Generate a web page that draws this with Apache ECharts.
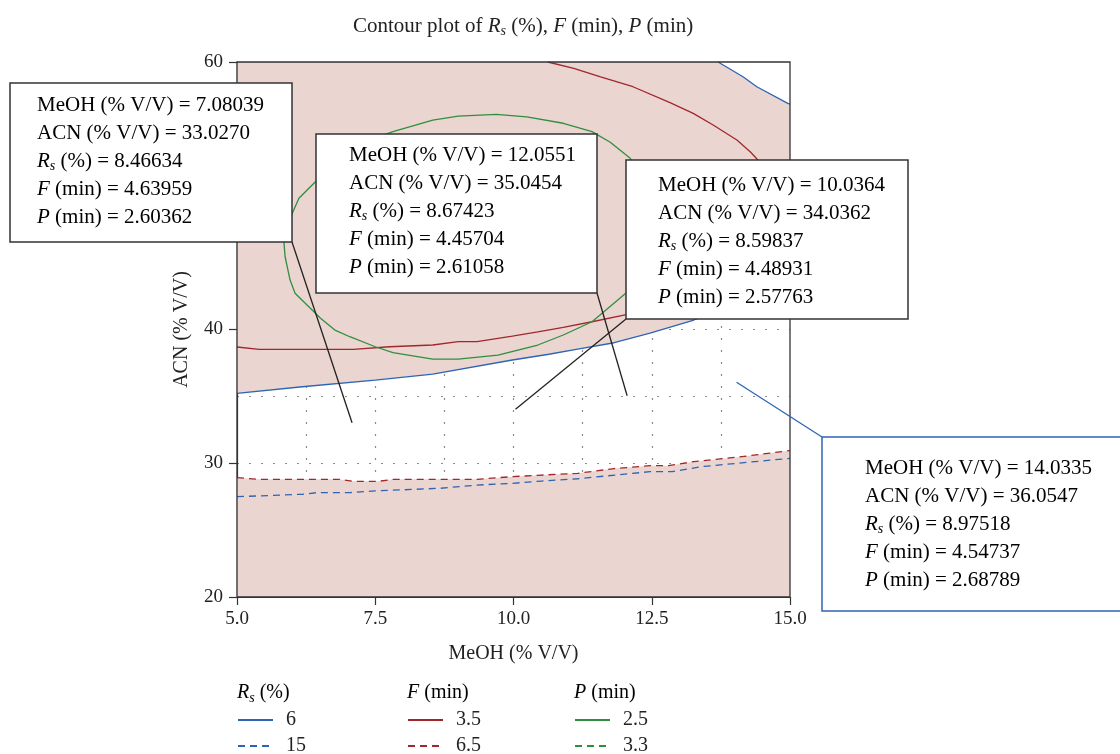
<!DOCTYPE html>
<html><head><meta charset="utf-8">
<script src="https://cdn.jsdelivr.net/npm/echarts@6/dist/echarts.min.js"></script>
<style>html,body{margin:0;padding:0;background:#fff}#c{width:1120px;height:754px}</style>
</head><body><div id="c"></div>
<script>
// ---------- data (MeOH %, ACN %) ----------
const rs6Lower = [[5.0,35.23],[6.18,35.72],[7.50,36.22],[8.54,36.67],[9.98,37.72],[10.64,38.15],[11.16,38.54],[11.82,39.01],[12.47,39.72],[13.26,40.71],[13.8,41.5],[14.4,42.4],[15.0,43.4]];
const rs6Upper = [[13.70,60.0],[14.15,58.90],[14.40,58.15],[14.96,56.91],[15.0,56.85]];
const rs15 = [[5.0,27.50],[6.18,27.68],[6.44,27.80],[7.03,27.80],[7.50,27.93],[8.68,28.13],[9.34,28.37],[9.98,28.50],[10.51,28.67],[11.16,28.84],[12.47,29.37],[12.87,29.37],[13.39,29.74],[15.0,30.37]];
const f35Lower = [[5.0,38.69],[5.40,38.52],[7.10,38.52],[7.76,38.71],[8.54,38.84],[9.0,39.09],[9.34,39.09],[9.98,39.51],[10.44,39.83],[10.90,40.16],[11.42,40.58],[12.04,41.11],[12.8,41.9],[13.6,43.0],[14.4,44.5],[15.0,45.8]];
const f35Upper = [[10.62,60.0],[11.09,59.53],[11.56,58.90],[12.16,58.15],[12.83,56.96],[13.25,56.16],[13.61,55.29],[14.04,54.17],[14.28,53.29],[14.42,52.67],[14.65,51.0],[14.85,49.0],[15.0,47.0]];
const f65 = [[5.0,28.92],[5.40,28.80],[6.84,28.80],[7.10,28.65],[7.56,28.65],[7.82,28.80],[9.34,28.80],[9.98,29.00],[10.44,29.10],[11.16,29.25],[11.82,29.60],[12.47,29.82],[12.80,29.82],[13.26,30.12],[14.04,30.45],[15.0,30.95]];
const p25 = [[6.0,48.69],[6.12,49.81],[6.45,51.18],[7.04,53.27],[7.40,54.17],[7.82,54.79],[8.54,55.66],[9.0,55.96],[9.69,56.09],[10.24,55.89],[10.90,55.42],[11.42,54.79],[11.75,54.0],[12.11,52.80],[12.45,51.0],[12.7,49.0],[12.8,47.5],[12.7,45.5],[12.4,43.9],[12.03,42.71],[11.42,40.58],[10.90,39.59],[10.44,38.84],[9.72,38.09],[9.0,37.79],[8.54,37.79],[7.82,38.27],[7.50,38.71],[7.04,39.46],[6.77,39.96],[6.51,40.84],[6.05,42.71],[5.96,43.70],[5.87,45.44],[5.85,46.44],[5.90,47.59],[6.0,48.69]];
const p33 = [];
// legend entries per column
const legendRs = ['6','15'];
const legendF = ['3.5','6.5'];
const legendP = ['2.5','3.3'];
// annotations
const annMeOH = ['7.08039','12.0551','10.0364','14.0335'];
const annACN  = ['33.0270','35.0454','34.0362','36.0547'];
const annRs   = ['8.46634','8.67423','8.59837','8.97518'];
const annF    = ['4.63959','4.45704','4.48931','4.54737'];
const annP    = ['2.60362','2.61058','2.57763','2.68789'];
// ---------- style ----------
const SERIF = '"Liberation Serif","DejaVu Serif",serif';
const PINK = '#ebd5d0', BLUE = '#2e64b4', RED = '#a0282d', GREEN = '#2f8f3e', INK = '#222';
function mkRich(fs, ss, sp){
  return {
    n:{fontFamily:SERIF,fontSize:fs,lineHeight:28,color:INK,fontWeight:'normal'},
    i:{fontFamily:SERIF,fontSize:fs,lineHeight:28,color:INK,fontStyle:'italic',fontWeight:'normal'},
    s:{fontFamily:SERIF,fontSize:ss,lineHeight:ss,color:INK,fontStyle:'italic',fontWeight:'normal',padding:[sp,0,0,0]}
  };
}
const rich = mkRich(21, 14, 10);
const dot = {type:[2,10],color:'#8a8a8a',width:1.2};

const chart = echarts.init(document.getElementById('c'));
function contour(name, data, color, dashed){
  return {type:'line', name, data, symbol:'none', smooth:false, z:3, silent:true,
    lineStyle:{color, width:1.3, type: dashed ? [7,5] : 'solid'}, itemStyle:{color}};
}
function fill(data, color, origin){
  return {type:'line', data, symbol:'none', silent:true, z:2,
    lineStyle:{width:0, opacity:0}, areaStyle:{color, opacity:1, origin}};
}
function leg(name, left, top){
  return {data:[name], left, top, itemWidth:35, itemHeight:14, padding:0, selectedMode:false,
    itemStyle:{opacity:0, color:'transparent', borderWidth:0},
    textStyle:{fontFamily:SERIF,fontSize:20,color:INK,padding:[0,0,0,8]}};
}
const legCols = [[237, legendRs],[407, legendF],[574, legendP]];
const legends = [];
legCols.forEach(c=>c[1].forEach((nm,k)=>legends.push(leg(nm, c[0], 710 + k*26))));

chart.setOption({
  animation:false,
  backgroundColor:'#fff',
  title:{left:348, top:11, text:'{n|Contour plot of }{i|R}{s|s}{n| (%), }{i|F}{n| (min), }{i|P}{n| (min)}',
    textStyle:{fontWeight:'normal', rich:{
      n:{fontFamily:SERIF,fontSize:21,color:INK,fontWeight:'normal'},
      i:{fontFamily:SERIF,fontSize:21,color:INK,fontStyle:'italic',fontWeight:'normal'},
      s:{fontFamily:SERIF,fontSize:14,lineHeight:14,color:INK,fontStyle:'italic',fontWeight:'normal',padding:[10,0,0,0]}}}},
  grid:{left:237, top:62, right:330, bottom:157},
  xAxis:{type:'value', min:5, max:15, interval:2.5,
    name:'MeOH (% V/V)', nameLocation:'middle', nameGap:47,
    nameTextStyle:{fontFamily:SERIF,fontSize:20,color:INK},
    axisLine:{show:true,onZero:false,lineStyle:{color:'#333',width:1.2}},
    axisTick:{show:true,length:8,lineStyle:{color:'#333',width:1.2}},
    axisLabel:{margin:13,fontFamily:SERIF,fontSize:19,color:INK,formatter:v=>v.toFixed(1)},
    splitLine:{show:true,showMinLine:false,showMaxLine:false,lineStyle:dot},
    minorTick:{show:false,splitNumber:2},
    minorSplitLine:{show:true,lineStyle:dot}},
  yAxis:{type:'value', min:20, max:60, interval:10,
    name:'ACN (% V/V)', nameLocation:'middle', nameGap:45,
    nameTextStyle:{fontFamily:SERIF,fontSize:20,color:INK},
    axisLine:{show:true,onZero:false,lineStyle:{color:'#333',width:1.2}},
    axisTick:{show:true,length:8,lineStyle:{color:'#333',width:1.2}},
    axisLabel:{margin:14,fontFamily:SERIF,fontSize:19,color:INK},
    splitLine:{show:true,showMinLine:false,showMaxLine:false,lineStyle:dot},
    minorTick:{show:false,splitNumber:2},
    minorSplitLine:{show:true,lineStyle:dot}},
  legend:legends,
  series:[
    fill(f65, PINK, 'start'),
    fill(rs6Lower, PINK, 'end'),
    fill(rs6Upper, '#ffffff', 'end'),
    contour('6', rs6Lower, BLUE, false),
    contour('6', rs6Upper, BLUE, false),
    contour('15', rs15, BLUE, true),
    contour('3.5', f35Lower, RED, false),
    contour('3.5', f35Upper, RED, false),
    contour('6.5', f65, RED, true),
    contour('2.5', p25, GREEN, false),
    contour('3.3', p33, GREEN, true)
  ]
});

// plot frame
const g = [];
const c0 = chart.convertToPixel({xAxisIndex:0,yAxisIndex:0},[5,60]);
const c1 = chart.convertToPixel({xAxisIndex:0,yAxisIndex:0},[15,20]);
g.push({type:'rect', z:50, shape:{x:c0[0],y:c0[1],width:c1[0]-c0[0],height:c1[1]-c0[1]}, style:{fill:null,stroke:'#333',lineWidth:1.3}});
// annotation boxes (pixel layout) and leader lines to data points
const boxes = [
  {x:10,  y:83,  w:282, h:159, tx:37,  ty:91,  cx:292, cy:242, color:'#333', lc:INK},
  {x:316, y:134, w:281, h:159, tx:349, ty:141, cx:597, cy:293, color:'#333', lc:INK},
  {x:626, y:160, w:282, h:159, tx:658, ty:171, cx:626, cy:319, color:'#333', lc:INK},
  {x:822, y:437, w:320, h:174, tx:865, ty:454, cx:822, cy:437, color:BLUE, lc:BLUE}
];
function annText(i){
  return [`{n|MeOH (% V/V) = ${annMeOH[i]}}`,`{n|ACN (% V/V) = ${annACN[i]}}`,
    `{i|R}{s|s}{n| (%) = ${annRs[i]}}`,`{i|F}{n| (min) = ${annF[i]}}`,`{i|P}{n| (min) = ${annP[i]}}`].join('\n');
}
boxes.forEach((b,i)=>{
  const p = chart.convertToPixel({xAxisIndex:0,yAxisIndex:0},[parseFloat(annMeOH[i]),parseFloat(annACN[i])]);
  g.push({type:'line', z:100, shape:{x1:b.cx,y1:b.cy,x2:p[0],y2:p[1]}, style:{stroke:b.lc,lineWidth:1.3}});
  g.push({type:'rect', z:101, shape:{x:b.x,y:b.y,width:b.w,height:b.h}, style:{fill:'#fff',stroke:b.color,lineWidth:1.5}});
  g.push({type:'text', z:102, x:b.tx, y:b.ty, style:{text:annText(i), rich, verticalAlign:'top'}});
});
// legend headers
const hRich = mkRich(20, 14, 10);
const headers = [[237,'{i|R}{s|s}{n| (%)}'],[407,'{i|F}{n| (min)}'],[574,'{i|P}{n| (min)}']];
headers.forEach(h=>g.push({type:'text', z:102, x:h[0], y:679, style:{text:h[1], rich:hRich, verticalAlign:'top'}}));
chart.setOption({graphic:g});
</script></body></html>
